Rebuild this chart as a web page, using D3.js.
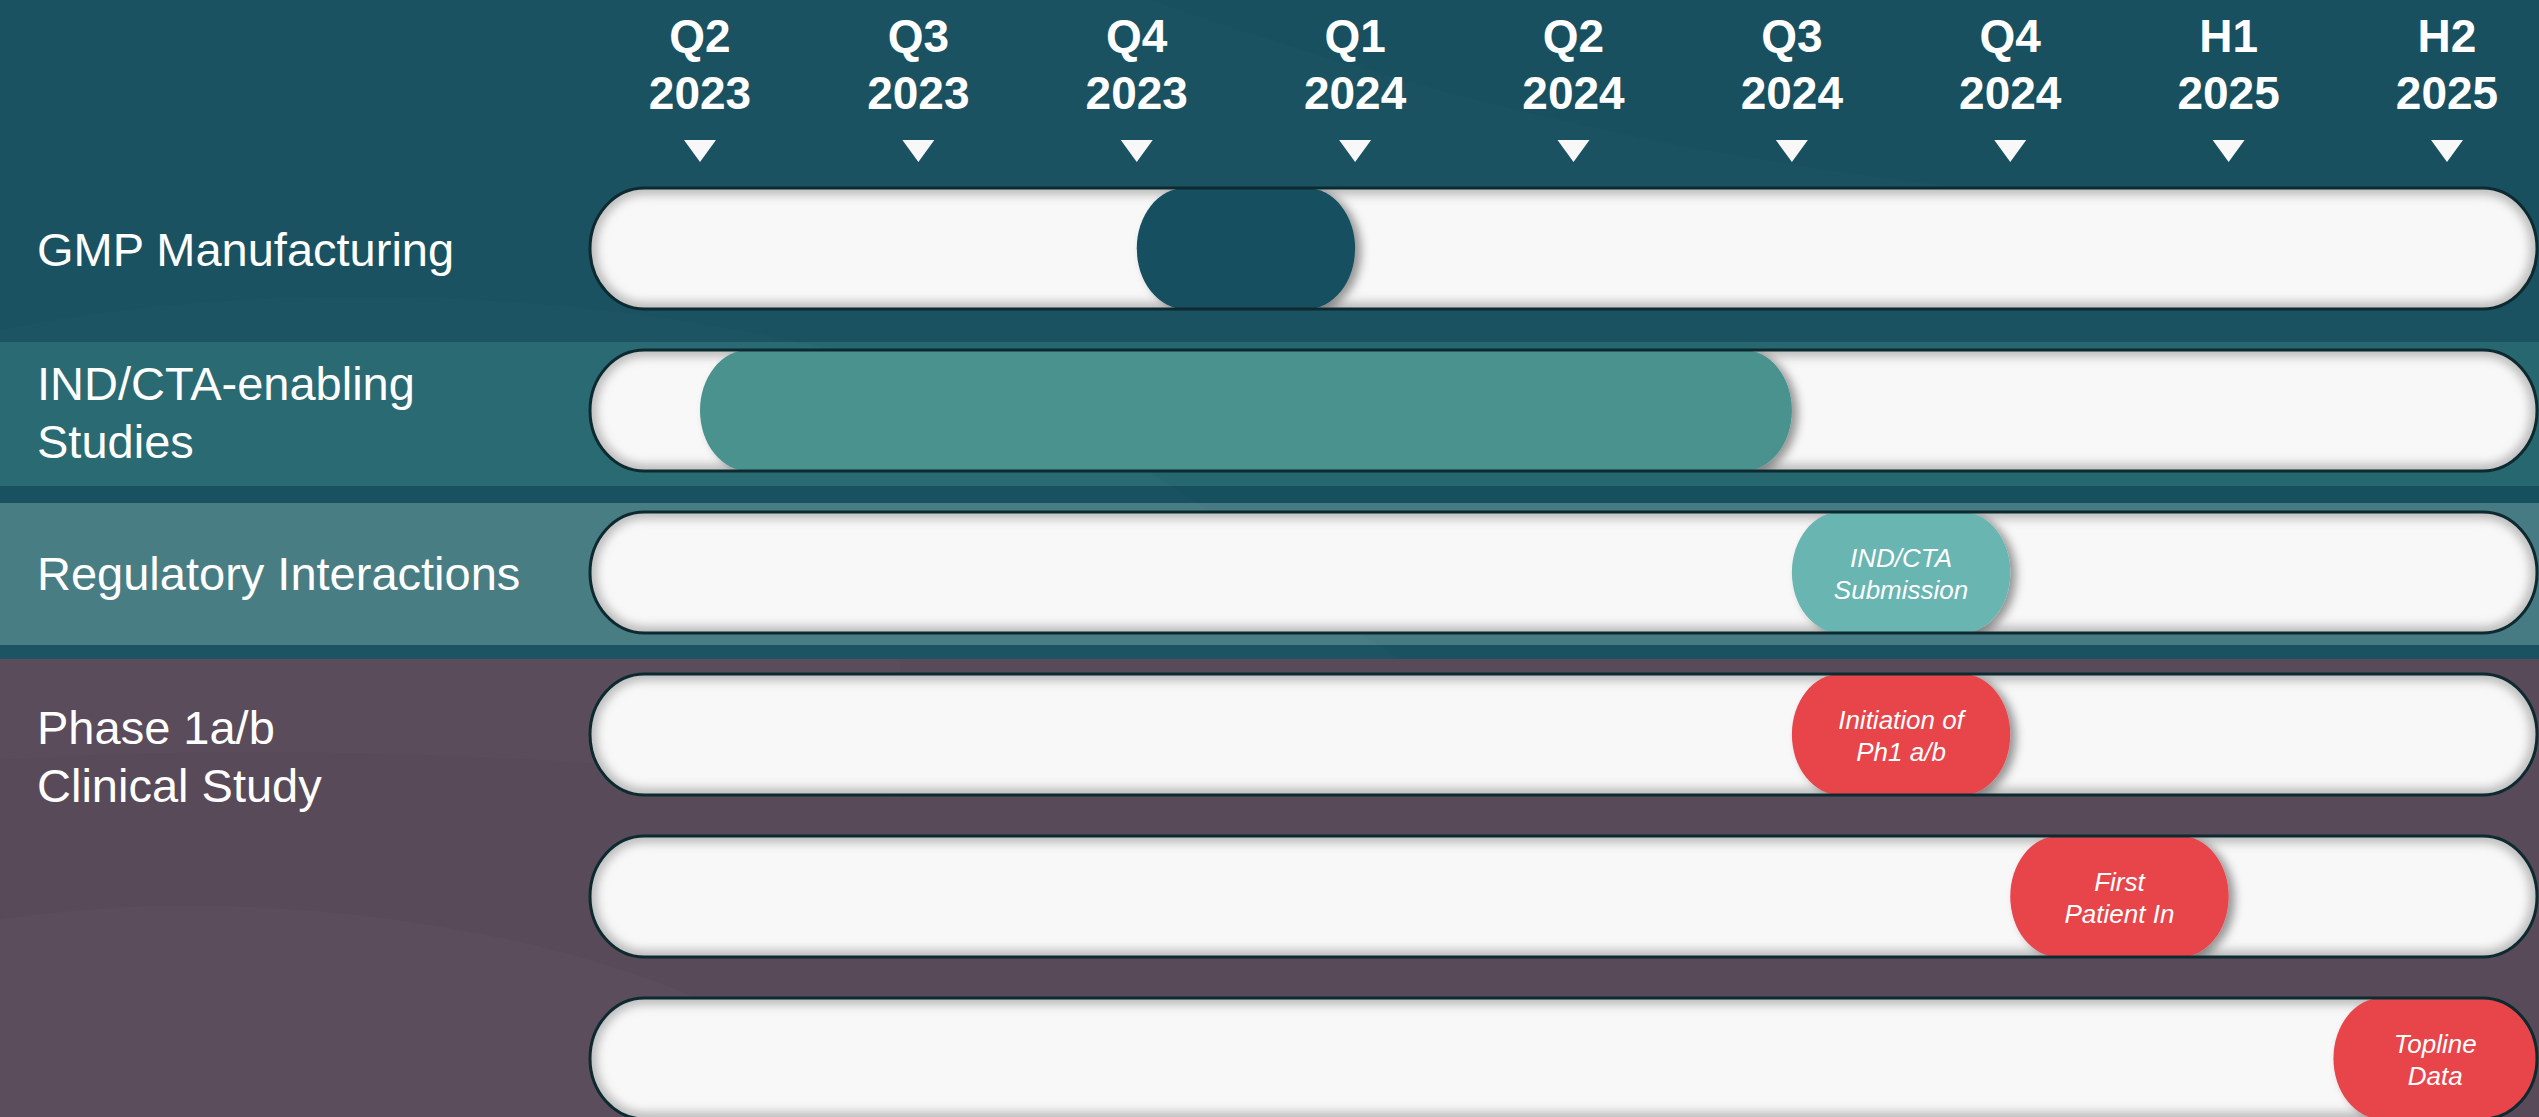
<!DOCTYPE html>
<html>
<head>
<meta charset="utf-8">
<script src="https://cdn.jsdelivr.net/npm/d3@7"></script>
<style>
	html, body { margin: 0; padding: 0; background: #1a5262; }
	svg { display: block; }
</style>
</head>
<body>
<svg id="chart" width="2539" height="1117"></svg>
<script>
'use strict';

// time axis
var periods = ['Q2', 'Q3', 'Q4', 'Q1', 'Q2', 'Q3', 'Q4', 'H1', 'H2'];
var years   = ['2023', '2023', '2023', '2024', '2024', '2024', '2024', '2025', '2025'];

// left hand labels, and the track row each one sits on
var rowLabels = [
	['GMP Manufacturing'],
	['IND/CTA-enabling', 'Studies'],
	['Regulatory Interactions'],
	['Phase 1a/b', 'Clinical Study']
];
var labelRow = [0, 1, 2, 3];

// one task per track; start / end in period index
var taskKind  = ['manufacturing', 'preclinical', 'regulatory', 'clinical', 'clinical', 'clinical'];
var taskStart = [2, 0, 5, 5, 6, 7.48];
var taskEnd   = [3, 5, 6, 6, 7, 8.5];
var taskText  = [
	[],
	[],
	['IND/CTA', 'Submission'],
	['Initiation of', 'Ph1 a/b'],
	['First', 'Patient In'],
	['Topline', 'Data']
];

var W = 2539, H = 1117;
var trackLeft = 590, trackRight = 2537;
var font = '"Liberation Sans", Arial, Helvetica, sans-serif';

var color = d3.scaleOrdinal()
	.domain(['manufacturing', 'preclinical', 'regulatory', 'clinical'])
	.range(['#164f5f', '#48928e', '#69b5b2', '#e8444c']);

var x = d3.scaleLinear().domain([0, periods.length - 1]).range([700, 2447]);
var y = d3.scaleBand()
	.domain(d3.range(taskStart.length))
	.range([188, 1119])
	.paddingInner(0.253)
	.paddingOuter(0);

var svg = d3.select('#chart');
var defs = svg.append('defs');

var shadow = defs.append('filter').attr('id', 'drop')
	.attr('x', '-20%').attr('y', '-20%').attr('width', '140%').attr('height', '140%');
shadow.append('feDropShadow')
	.attr('dx', 6).attr('dy', 3).attr('stdDeviation', 5)
	.attr('flood-color', '#000').attr('flood-opacity', 0.4);

defs.append('filter').attr('id', 'soft')
	.attr('x', '-5%').attr('y', '-20%').attr('width', '110%').attr('height', '140%')
	.append('feGaussianBlur').attr('stdDeviation', 5);

// background panels
var bands = [
	{ y0: 0,   y1: 342,  fill: '#1a5262' },
	{ y0: 342, y1: 486,  fill: '#276870' },
	{ y0: 486, y1: 503,  fill: '#164f5e' },
	{ y0: 503, y1: 645,  fill: '#477b83' },
	{ y0: 645, y1: 659,  fill: '#1a5262' },
	{ y0: 659, y1: H,    fill: '#594a59' }
];

svg.append('g').attr('class', 'bands')
	.selectAll('rect').data(bands).enter().append('rect')
	.attr('x', 0).attr('width', W)
	.attr('y', function (d) { return d.y0; })
	.attr('height', function (d) { return d.y1 - d.y0; })
	.attr('fill', function (d) { return d.fill; });

// faint swooshes in the backdrop
var swoosh = svg.append('g').attr('class', 'swoosh').attr('fill', '#fff');
swoosh.append('path')
	.attr('d', 'M0,330 C300,270 700,290 1000,400 C1200,470 1300,600 1400,659 L0,659 Z')
	.attr('fill-opacity', 0.015);
swoosh.append('path')
	.attr('d', 'M1150,0 C1500,120 1800,200 2539,230 L2539,0 Z')
	.attr('fill', '#000').attr('fill-opacity', 0.025);
swoosh.append('path')
	.attr('d', 'M0,920 C250,880 550,930 700,1000 C760,1040 780,1090 790,1117 L0,1117 Z')
	.attr('fill-opacity', 0.02);
swoosh.append('path')
	.attr('d', 'M0,760 C300,740 700,760 900,800 L900,659 L0,659 Z')
	.attr('fill-opacity', 0.012);

// header ticks
var ticks = svg.append('g').attr('class', 'ticks')
	.selectAll('g').data(periods).enter().append('g')
	.attr('transform', function (d, i) { return 'translate(' + x(i) + ',0)'; });

ticks.append('text')
	.attr('y', 52)
	.attr('text-anchor', 'middle')
	.attr('fill', '#fff')
	.style('font', 'bold 46px ' + font)
	.text(function (d) { return d; });

ticks.append('text')
	.attr('y', 109)
	.attr('text-anchor', 'middle')
	.attr('fill', '#fff')
	.style('font', 'bold 46px ' + font)
	.text(function (d, i) { return years[i]; });

ticks.append('path')
	.attr('d', 'M-16,140 L16,140 L0,162 Z')
	.attr('fill', '#f8f8f8');

// row labels
var labels = svg.append('g').attr('class', 'row-labels')
	.selectAll('text').data(rowLabels).enter().append('text')
	.attr('fill', '#fff')
	.style('font', '47px ' + font)
	.attr('transform', function (d, i) {
		var cy = y(labelRow[i]) + y.bandwidth() / 2;
		var top = d.length === 1 ? cy + 17 : cy - 11;
		if (i === 3) top = cy + 10;
		return 'translate(37,' + top + ')';
	});

labels.selectAll('tspan').data(function (d) { return d; }).enter().append('tspan')
	.attr('x', 0)
	.attr('y', function (d, i) { return i * 58; })
	.text(function (d) { return d; });

// tracks
var bh = y.bandwidth();
var rows = svg.append('g').attr('class', 'tracks')
	.selectAll('g').data(taskStart).enter().append('g')
	.attr('transform', function (d, i) { return 'translate(0,' + y(i) + ')'; });

function trackRect(sel) {
	return sel
		.attr('x', trackLeft).attr('width', trackRight - trackLeft)
		.attr('y', 0).attr('height', bh)
		.attr('rx', bh / 2 * 0.9).attr('ry', bh / 2);
}

rows.each(function (d, i) {
	var g = d3.select(this);
	var id = 'clip-' + i;

	// clip is in the row's own coordinates
	defs.append('clipPath').attr('id', id)
		.append('rect').call(trackRect);

	var inner = g.append('g').attr('clip-path', 'url(#' + id + ')');

	inner.append('rect').call(trackRect)
		.attr('fill', '#f8f8f8');

	inner.append('rect').call(trackRect)
		.attr('fill', 'none')
		.attr('stroke', '#8a8a8a')
		.attr('stroke-opacity', 0.55)
		.attr('stroke-width', 14)
		.attr('filter', 'url(#soft)');

	var x0 = x(taskStart[i]);
	var x1 = x(taskEnd[i]);

	inner.append('rect')
		.attr('x', x0).attr('width', x1 - x0)
		.attr('height', bh)
		.attr('rx', bh / 2 * 0.8).attr('ry', bh / 2)
		.attr('fill', color(taskKind[i]))
		.attr('filter', 'url(#drop)');

	var cx = (x0 + Math.min(x1, trackRight)) / 2;
	var cy = bh / 2;

	inner.append('text')
		.attr('text-anchor', 'middle')
		.attr('fill', '#fff')
		.style('font', 'italic 26px ' + font)
		.selectAll('tspan').data(taskText[i]).enter().append('tspan')
		.attr('x', cx)
		.attr('y', function (t, j) { return cy - 5 + j * 32; })
		.text(function (t) { return t; });

	g.append('rect').call(trackRect)
		.attr('fill', 'none')
		.attr('stroke', '#0c2a30')
		.attr('stroke-width', 3);
});
</script>
</body>
</html>
